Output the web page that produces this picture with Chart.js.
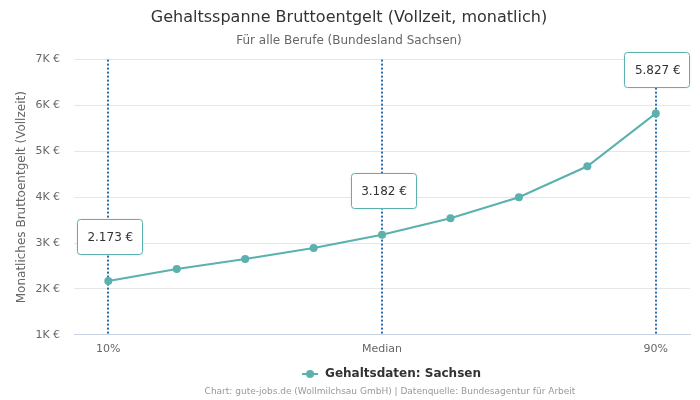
<!DOCTYPE html>
<html>
<head>
<meta charset="utf-8">
<script src="https://cdn.jsdelivr.net/npm/chart.js@4"></script>
<style>
  html, body { margin: 0; padding: 0; background: #fff; }
  #wrap { width: 700px; height: 400px; }
</style>
</head>
<body>
<div id="wrap"><canvas id="salary-chart"></canvas></div>
<script>
const labels = ["10%", "", "", "", "Median", "", "", "", "90%"];
const salaries = [2173, 2435, 2652, 2891, 3182, 3543, 4000, 4674, 5827];
const markedIndexes = [0, 4, 8];

const teal = "#5ab1ad";
const dotBlue = "#2a6fad";

const formatEuro = (v) => v.toLocaleString("de-DE") + " €";

Chart.defaults.font.family = "'DejaVu Sans', sans-serif";
Chart.defaults.color = "#666";

// legend icon: short line with a dot, sitting at the right of a wider canvas
// so the legend lands a bit right of centre like the original
const ICON_W = 102;
const legendIcon = document.createElement("canvas");
legendIcon.width = ICON_W;
legendIcon.height = 10;
{
  const c = legendIcon.getContext("2d");
  c.strokeStyle = teal;
  c.lineWidth = 2;
  c.beginPath();
  c.moveTo(ICON_W - 17, 5);
  c.lineTo(ICON_W - 1, 5);
  c.stroke();
  c.fillStyle = teal;
  c.beginPath();
  c.arc(ICON_W - 9, 5, 4, 0, Math.PI * 2);
  c.fill();
}

const markerPlugin = {
  id: "markers",
  beforeDatasetsDraw(chart) {
    const { ctx, chartArea, scales } = chart;
    ctx.save();
    ctx.strokeStyle = dotBlue;
    ctx.lineWidth = 2;
    ctx.setLineDash([2, 2]);
    markedIndexes.forEach((i) => {
      const x = Math.round(scales.x.getPixelForValue(i));
      ctx.beginPath();
      ctx.moveTo(x, chartArea.top);
      ctx.lineTo(x, chartArea.bottom);
      ctx.stroke();
    });
    ctx.restore();
  },
  afterDatasetsDraw(chart) {
    const { ctx, scales } = chart;
    ctx.save();
    ctx.font = "12px 'DejaVu Sans', sans-serif";
    ctx.textAlign = "center";
    ctx.textBaseline = "middle";
    markedIndexes.forEach((i) => {
      const x = scales.x.getPixelForValue(i);
      const y = scales.y.getPixelForValue(salaries[i]) - 44;
      const text = formatEuro(salaries[i]);
      const w = 65, h = 35;
      ctx.shadowColor = "rgba(0,0,0,0.12)";
      ctx.shadowBlur = 3;
      ctx.fillStyle = "#fff";
      ctx.strokeStyle = teal;
      ctx.lineWidth = 1;
      ctx.setLineDash([]);
      ctx.beginPath();
      ctx.roundRect(Math.round(x - w / 2) + 1.5, Math.round(y - h / 2) + 0.5, w, h, 3);
      ctx.fill();
      ctx.shadowColor = "transparent";
      ctx.stroke();
      ctx.fillStyle = "#333";
      ctx.fillText(text, x + 2, y + 1);
    });
    ctx.restore();
  },
  afterDraw(chart) {
    const { ctx, width, height } = chart;
    ctx.save();
    ctx.font = "9px 'DejaVu Sans', sans-serif";
    ctx.fillStyle = "#999";
    ctx.textAlign = "center";
    ctx.textBaseline = "middle";
    ctx.fillText(
      "Chart: gute-jobs.de (Wollmilchsau GmbH) | Datenquelle: Bundesagentur für Arbeit",
      width / 2 + 40,
      height - 8
    );
    ctx.restore();
  },
};

new Chart(document.getElementById("salary-chart").getContext("2d"), {
  type: "line",
  data: {
    labels,
    datasets: [
      {
        label: "Gehaltsdaten: Sachsen",
        data: salaries,
        borderColor: teal,
        backgroundColor: teal,
        borderWidth: 2,
        pointRadius: 4,
        pointBackgroundColor: teal,
        pointBorderWidth: 0,
        tension: 0,
        fill: false,
      },
    ],
  },
  options: {
    responsive: true,
    maintainAspectRatio: false,
    animation: false,
    layout: { padding: { left: 8, right: 10, bottom: 10, top: 0 } },
    scales: {
      x: {
        offset: true,
        grid: { display: false, drawTicks: false },
        border: { color: "#c8d4e3" },
        ticks: {
          autoSkip: false,
          maxRotation: 0,
          padding: 8,
          font: { size: 11 },
          color: "#666",
        },
      },
      y: {
        min: 1000,
        max: 7000,
        grid: {
          color: "#e6e6e6",
          drawTicks: true,
          tickLength: 10,
          tickColor: "rgba(0,0,0,0)",
        },
        border: { display: false },
        ticks: {
          stepSize: 1000,
          padding: 4,
          font: { size: 11 },
          color: "#666",
          callback: (v) => v / 1000 + "K €",
        },
        title: {
          display: true,
          text: "Monatliches Bruttoentgelt (Vollzeit)",
          font: { size: 12 },
          color: "#666",
          padding: { top: 7, bottom: 2 },
        },
      },
    },
    plugins: {
      title: {
        display: true,
        text: "Gehaltsspanne Bruttoentgelt (Vollzeit, monatlich)",
        font: { size: 16, weight: "normal" },
        color: "#333",
        padding: { top: 8, bottom: 6 },
      },
      subtitle: {
        display: true,
        text: "Für alle Berufe (Bundesland Sachsen)",
        font: { size: 12 },
        color: "#666",
        padding: { bottom: 12 },
      },
      legend: {
        position: "bottom",
        labels: {
          usePointStyle: true,
          pointStyleWidth: ICON_W,
          color: "#333",
          font: { size: 12, weight: "bold" },
          padding: 4,
          generateLabels: (chart) =>
            Chart.defaults.plugins.legend.labels.generateLabels(chart).map((l) => ({
              ...l,
              pointStyle: legendIcon,
            })),
        },
      },
      tooltip: { enabled: false },
    },
  },
  plugins: [markerPlugin],
});
</script>
</body>
</html>
